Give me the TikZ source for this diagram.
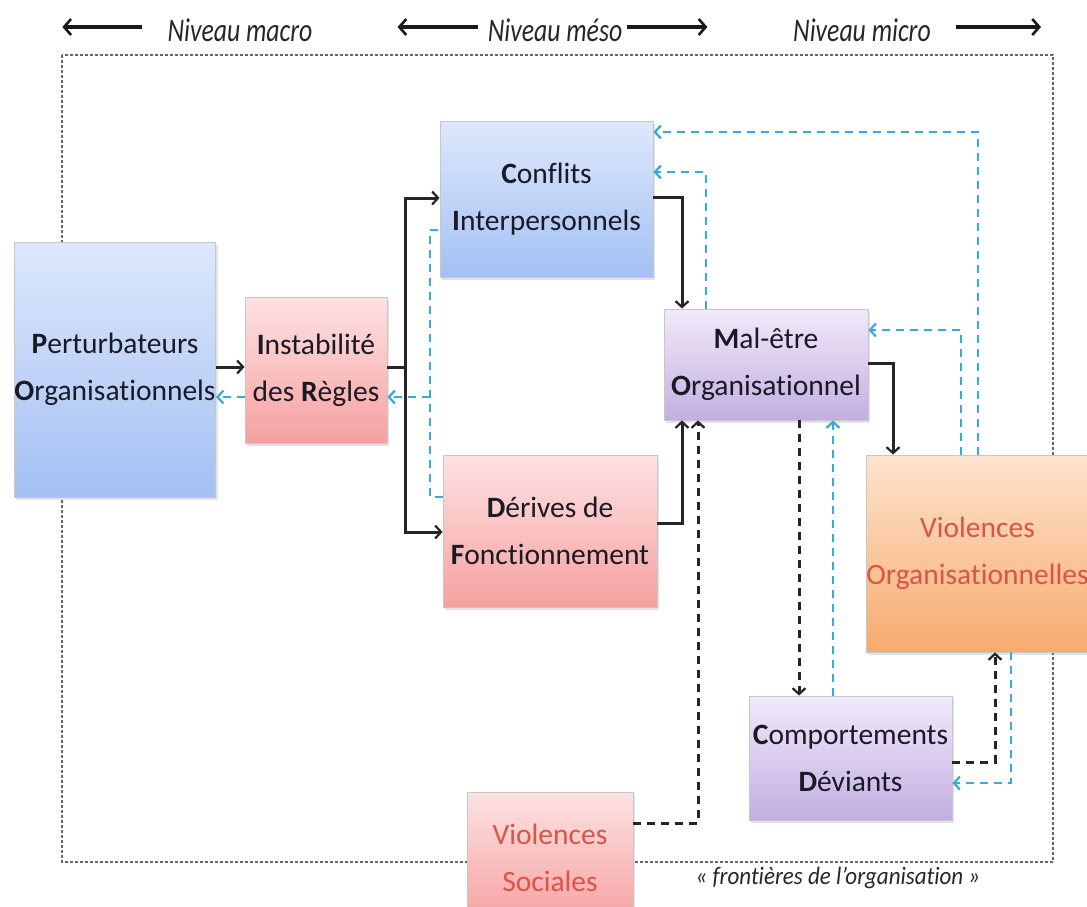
\documentclass[tikz,border=0pt]{standalone}
\usepackage{fontspec}
\usepackage{graphicx}
\setmainfont{Carlito}[Ligatures=NoCommon]
\usetikzlibrary{arrows.meta,shadows}
\definecolor{bluetop}{HTML}{DDE8FC}
\definecolor{bluebot}{HTML}{A3C0F3}
\definecolor{pinktop}{HTML}{FDE2E2}
\definecolor{pinkbot}{HTML}{F6A0A0}
\definecolor{purtop}{HTML}{F1EAF9}
\definecolor{purbot}{HTML}{C3AEE2}
\definecolor{ortop}{HTML}{FDE4CE}
\definecolor{orbot}{HTML}{F7AA6E}
\definecolor{cyanl}{HTML}{38ACD8}
\definecolor{txt}{HTML}{1A1A26}
\definecolor{redt}{HTML}{D8554A}
\newcommand{\fb}[1]{\textbf{#1}}
\tikzset{
  box/.style={draw=black!22, line width=0.8pt, inner sep=0pt, align=center,
    text=txt, font=\fontsize{29.5}{47}\selectfont,
    drop shadow={opacity=0.22, shadow xshift=2pt, shadow yshift=-3pt}},
  bluebox/.style={box, top color=bluetop, bottom color=bluebot},
  pinkbox/.style={box, top color=pinktop, bottom color=pinkbot},
  purbox/.style={box, top color=purtop, bottom color=purbot},
  orbox/.style={box, top color=ortop, bottom color=orbot},
  tip/.style={-{Straight Barb[length=6pt,width=13pt,line width=2.2pt]}},
  blk/.style={draw=black!85, line width=3pt},
  blkd/.style={draw=black!85, line width=3pt, dash pattern=on 8pt off 6pt},
  cy/.style={draw=cyanl, line width=2.6pt, dash pattern=on 8pt off 6pt},
  border/.style={draw=black!60, line width=1.1pt, dash pattern=on 3pt off 2pt},
  toplab/.style={text=black!85, inner sep=0pt, font=\fontsize{33}{33}\selectfont\itshape},
  toparr/.style={draw=black!90, line width=3.2pt, -{Straight Barb[length=7pt,width=16pt,line width=2.6pt]}},
}
\begin{document}
\begin{tikzpicture}[x=1pt,y=-1pt]
\useasboundingbox (0,0) rectangle (1087,907);
\clip (0,0) rectangle (1087,907);
\fill[white] (0,0) rectangle (1087,907);

% top level labels
\node[toplab] (lmacro) at (240,30) {\scalebox{0.78}[1]{Niveau macro}};
\node[toplab] (lmeso) at (555,30) {\scalebox{0.78}[1]{Niveau méso}};
\node[toplab] (lmicro) at (862,30) {\scalebox{0.78}[1]{Niveau micro}};
\draw[toparr] ([xshift=-25pt,yshift=3pt]lmacro.west) -- ++(-80,0);
\draw[toparr] ([xshift=-10pt,yshift=3pt]lmeso.west) -- ++(-80,0);
\draw[toparr] ([xshift=5pt,yshift=3pt]lmeso.east) -- ++(80,0);
\draw[toparr] ([xshift=25pt,yshift=3pt]lmicro.east) -- ++(85,0);

% organisation border
\draw[border] (62,55) rectangle (1053,862);
\node[text=black!85, inner sep=0pt, font=\fontsize{25}{25}\selectfont\itshape] (front) at (838,878)
  {\scalebox{0.92}[1]{« frontières de l’organisation »}};

% boxes
\node[bluebox, minimum width=200pt, minimum height=255pt] (pert) at (115,369.5)
  {\fb{P}erturbateurs\\\fb{O}rganisationnels};
\node[pinkbox, minimum width=142pt, minimum height=146pt] (inst) at (316,370)
  {\fb{I}nstabilité\\des \fb{R}ègles};
\node[bluebox, minimum width=213pt, minimum height=156pt] (conf) at (546.5,199)
  {\fb{C}onflits\\\fb{I}nterpersonnels};
\node[pinkbox, minimum width=214pt, minimum height=152pt] (deriv) at (550,531)
  {\fb{D}érives de\\\fb{F}onctionnement};
\node[purbox, minimum width=204pt, minimum height=111pt] (mal) at (766,364.5)
  {\fb{M}al-être\\\fb{O}rganisationnel};
\node[orbox, minimum width=219pt, minimum height=197pt, text=redt] (vorg) at (977.5,553.5)
  {Violences\\Organisationnelles};
\node[purbox, minimum width=203pt, minimum height=124pt] (comp) at (850.5,758)
  {\fb{C}omportements\\\fb{D}éviants};
\node[pinkbox, minimum width=166pt, minimum height=132pt, text=redt] (vsoc) at (550,858)
  {Violences\\Sociales};

% black solid connectors
\coordinate (split) at (405,367);
\draw[blk, tip] (pert.east |- 0,367) -- (inst.west |- 0,367);
\draw[blk] (inst.east |- split) -- (split);
\draw[blk, tip] (split) |- (conf.west |- 0,198);
\draw[blk, tip] (split) |- (deriv.west |- 0,532);
\draw[blk, tip] (conf.east |- 0,197) -| (mal.north -| 682,0);
\draw[blk, tip] (deriv.east |- 0,523) -| (mal.south -| 682,0);
\draw[blk, tip] (mal.east |- 0,363) -| (vorg.north -| 893,0);

% black dashed connectors
\draw[blkd, tip] (vsoc.east |- 0,823) -| (mal.south -| 698,0);
\draw[blkd, tip] (mal.south -| 799,0) -- (comp.north -| 799,0);
\draw[blkd, tip] (comp.east |- 0,762) -| (vorg.south -| 995,0);

% cyan dashed feedback connectors
\draw[cy, tip] (vorg.north -| 978,0) |- (conf.east |- 0,132);
\draw[cy, tip] (mal.north -| 706,0) |- (conf.east |- 0,172);
\draw[cy, tip] (vorg.north -| 961,0) |- (mal.east |- 0,330);
\draw[cy, tip] (comp.north -| 833,0) -- (mal.south -| 833,0);
\draw[cy, tip] (vorg.south -| 1011,0) |- (comp.east |- 0,783);
\coordinate (cyA) at (430,497);
\coordinate (cyB) at (430,230);
\coordinate (cyC) at (430,397);
\draw[cy] (deriv.west |- cyA) -- (cyA) -- (cyB) -- (conf.west |- cyB);
\draw[cy, tip] (cyC) -- (inst.east |- cyC);
\draw[cy, tip] (inst.west |- 0,397) -- (pert.east |- 0,397);
\end{tikzpicture}
\end{document}
